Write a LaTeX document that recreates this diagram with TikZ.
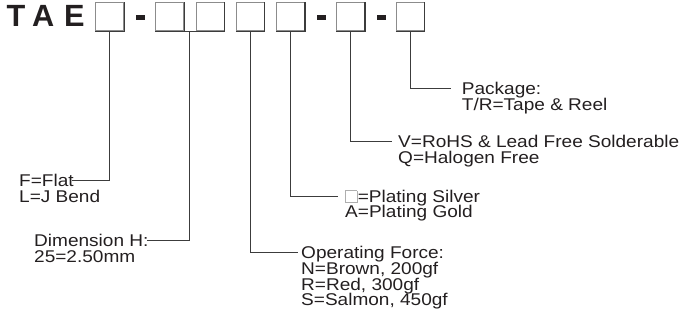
\documentclass[tikz,border=0pt]{standalone}
\usepackage{fontspec}
\setmainfont{Liberation Sans}
\newfontfamily\lblfont[FakeStretch=1.12]{Liberation Sans}
\usepackage{tikz}
\usetikzlibrary{calc}
\definecolor{ink}{HTML}{231F20}
\definecolor{rim}{HTML}{8C8C8C}
\definecolor{shade}{HTML}{3C3C3C}
\newcommand{\blanksq}{{\color{rim!70}\setlength{\fboxrule}{0.8pt}\setlength{\fboxsep}{0pt}\fbox{\rule{0pt}{11pt}\rule{10.5pt}{0pt}}}\hspace{0.5pt}}

\begin{document}
\begin{tikzpicture}[x=1pt,y=-1pt,color=ink]
		\tikzstyle{slot}=[draw=rim,line width=1pt,inner sep=0pt,minimum width=28pt,minimum height=28.5pt]
		\tikzstyle{hyph}=[fill=ink,inner sep=0pt,minimum width=9pt,minimum height=5pt]
		\tikzstyle{lbl}=[anchor=base west,inner sep=0pt,text height=12.2pt,text depth=0pt,font=\lblfont\fontsize{17}{17}\selectfont]
		\tikzstyle{edge}=[draw=shade,line width=1.2pt]
		\tikzstyle{conn}=[draw=shade,line width=1pt]

		\useasboundingbox (0,0) rectangle (681,333);

		\node[anchor=base west,inner sep=0pt,font=\bfseries\fontsize{30.7}{30.7}\selectfont](tae) at (6.4,26){T\hspace{6.8pt}A\hspace{9.8pt}E};

		\node[slot](b1) at (109.7,16.7){};
		\node[hyph](d1) at (140.5,17){};
		\node[slot](b2) at (169.9,16.7){};
		\node[slot](b3) at (210,16.7){};
		\node[slot](b4) at (250.3,16.7){};
		\node[slot](b5) at (290.5,16.7){};
		\node[hyph](d2) at (321,17){};
		\node[slot](b6) at (350.5,16.7){};
		\node[hyph](d3) at (381.5,17){};
		\node[slot](b7) at (410.3,16.7){};

		\draw[edge] (b1.south west) -- (b1.south east) -- (b1.north east);
		\draw[edge] (b2.south west) -- (b2.south east) -- (b2.north east);
		\draw[edge] (b3.south west) -- (b3.south east) -- (b3.north east);
		\draw[edge] (b4.south west) -- (b4.south east) -- (b4.north east);
		\draw[edge] (b5.south west) -- (b5.south east) -- (b5.north east);
		\draw[edge] (b6.south west) -- (b6.south east) -- (b6.north east);
		\draw[edge] (b7.south west) -- (b7.south east) -- (b7.north east);
		\draw[edge] (b2.south east) -- (b3.south west);
		\coordinate (m23) at ($(b2.south east)!0.5!(b3.south west)$);

		% lead style
		\node[lbl](flat) at (19,186.1){F=Flat};
		\node[lbl](jbend) at (19,202.1){L=J Bend};

		% dimension H
		\node[lbl](dim) at (34,246.8){Dimension H:};
		\node[lbl](dim2) at (34,262.6){25=2.50mm};

		% operating force
		\node[lbl](force) at (301,258.8){Operating Force:};
		\node[lbl](brown) at (301,274.8){N=Brown, 200gf};
		\node[lbl](red) at (301,290.3){R=Red, 300gf};
		\node[lbl](salmon) at (301,305.8){S=Salmon, 450gf};

		% plating
		\node[lbl](silver) at (345,202.1){\blanksq=Plating Silver};
		\node[lbl](gold) at (345,217.6){A=Plating Gold};

		% rohs
		\node[lbl](rohs) at (398,147.1){V=RoHS \& Lead Free Solderable};
		\node[lbl](halo) at (398,163.1){Q=Halogen Free};

		% package
		\node[lbl](pack) at (461.7,94.4){Package:};
		\node[lbl](tape) at (461.7,110.4){T/R=Tape \& Reel};

		\draw[conn,shorten >=-1.5pt] (b1.south) |- (flat.east);
		\draw[conn,shorten >=-1.5pt] (m23) |- (dim.east);
		\draw[conn,shorten >=3.5pt] (b4.south) |- (force.west);
		\draw[conn,shorten >=7pt] (b5.south) |- (silver.west);
		\draw[conn,shorten >=6.5pt] (b6.south) |- (rohs.west);
		\draw[conn,shorten >=11pt] (b7.south) |- (pack.west);
	\end{tikzpicture}
\end{document}
